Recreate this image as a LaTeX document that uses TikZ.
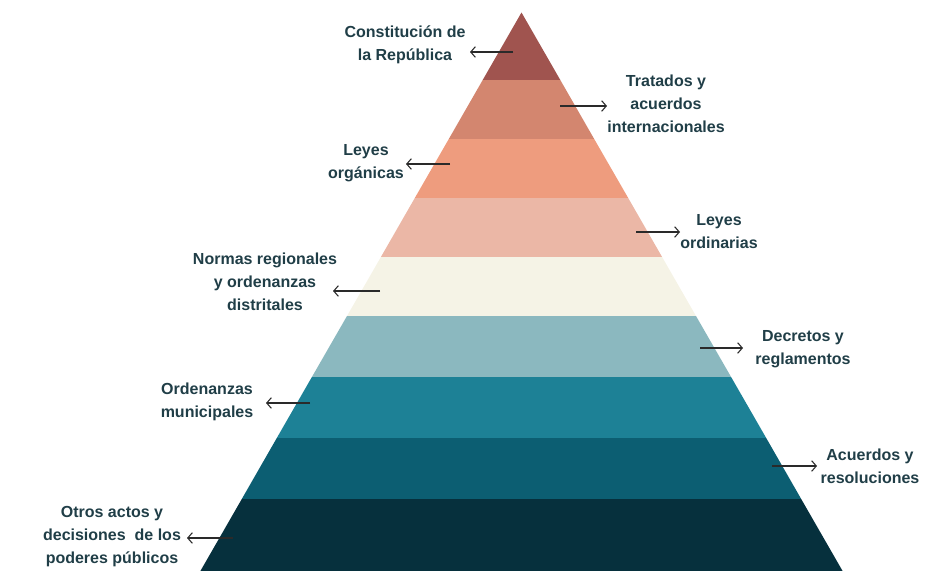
\documentclass[tikz,border=0pt]{standalone}
\usepackage{fontspec}
\setmainfont{Liberation Sans}
\usetikzlibrary{arrows.meta}
\definecolor{cA}{HTML}{A0544F}
\definecolor{cB}{HTML}{D3866F}
\definecolor{cC}{HTML}{EE9C7E}
\definecolor{cD}{HTML}{EBB7A6}
\definecolor{cE}{HTML}{F5F3E6}
\definecolor{cF}{HTML}{8BB8BF}
\definecolor{cG}{HTML}{1D8196}
\definecolor{cH}{HTML}{0C5E72}
\definecolor{cI}{HTML}{06303D}
\definecolor{txt}{HTML}{203E47}
\definecolor{arr}{HTML}{2A2A2A}
\begin{document}
\begin{tikzpicture}[x=0.75pt,y=-0.75pt,
  lbl/.style={align=center,inner sep=0pt,text=txt,font=\bfseries\fontsize{12}{17.25}\selectfont},
  pointer/.style={draw=arr,line width=0.8pt,-{Straight Barb[length=3.5pt,width=8pt]}}]
\useasboundingbox (0,0) rectangle (943,571);
% pyramid layers
\fill[cA] (521.5,12.5) -- (560.3,80) -- (482.7,80) -- cycle;
\fill[cB] (482.7,80) -- (560.3,80) -- (594.2,139) -- (448.8,139) -- cycle;
\fill[cC] (448.8,139) -- (594.2,139) -- (628.2,198) -- (414.8,198) -- cycle;
\fill[cD] (414.8,198) -- (628.2,198) -- (662.1,257) -- (380.9,257) -- cycle;
\fill[cE] (380.9,257) -- (662.1,257) -- (696.0,316) -- (347.0,316) -- cycle;
\fill[cF] (347.0,316) -- (696.0,316) -- (731.1,377) -- (311.9,377) -- cycle;
\fill[cG] (311.9,377) -- (731.1,377) -- (766.2,438) -- (276.8,438) -- cycle;
\fill[cH] (276.8,438) -- (766.2,438) -- (801.2,499) -- (241.8,499) -- cycle;
\fill[cI] (241.8,499) -- (801.2,499) -- (842.6,571) -- (200.4,571) -- cycle;
% labels
\node[lbl] (constitucion) at (405,45) {Constitución de\\la República};
\node[lbl] (tratados) at (666,103.5) {Tratados y\\acuerdos\\internacionales};
\node[lbl] (organicas) at (366,163) {Leyes\\orgánicas};
\node[lbl] (ordinarias) at (719,232) {Leyes\\ordinarias};
\node[lbl] (normas) at (265,282) {Normas regionales\\y ordenanzas\\distritales};
\node[lbl] (decretos) at (803,349) {Decretos y\\reglamentos};
\node[lbl] (ordenanzas) at (207,402) {Ordenanzas\\municipales};
\node[lbl] (acuerdos) at (870,466) {Acuerdos y\\resoluciones};
\node[lbl] (otros) at (112,537) {Otros actos y\\decisiones\ \ de los\\poderes públicos};
% arrow coordinates
\coordinate (t1) at (513,52);  \coordinate (h1) at (470,52);
\coordinate (t2) at (560,106); \coordinate (h2) at (607,106);
\coordinate (t3) at (450,164); \coordinate (h3) at (406,164);
\coordinate (t4) at (636,232); \coordinate (h4) at (680,232);
\coordinate (t5) at (380,291); \coordinate (h5) at (333,291);
\coordinate (t6) at (700,348); \coordinate (h6) at (743,348);
\coordinate (t7) at (310,403); \coordinate (h7) at (266,403);
\coordinate (t8) at (772,466); \coordinate (h8) at (817,466);
\coordinate (t9) at (233,538); \coordinate (h9) at (187,538);
\foreach \i in {1,...,9} { \draw[pointer] (t\i) -- (h\i); }
\end{tikzpicture}
\end{document}
